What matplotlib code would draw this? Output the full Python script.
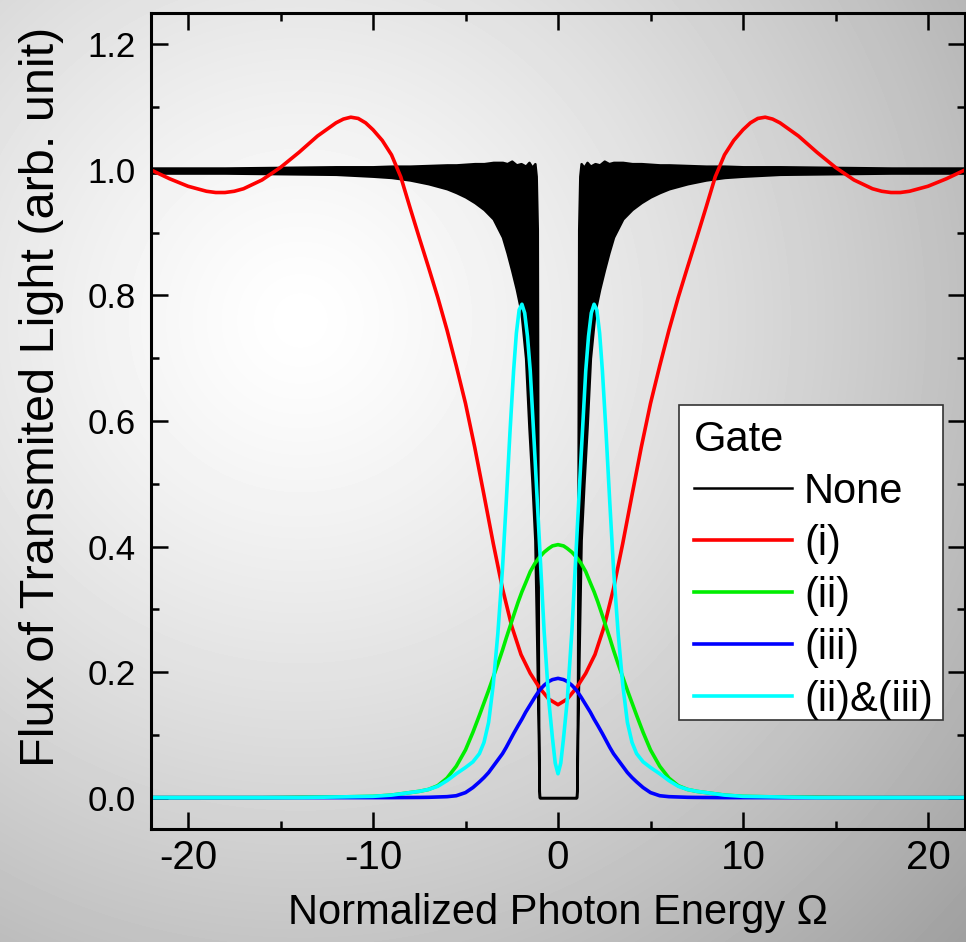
import matplotlib
matplotlib.use('Agg')
import matplotlib.pyplot as plt
from matplotlib.lines import Line2D
from matplotlib.patches import Rectangle
import numpy as np

plt.rcParams['font.family'] = ['Liberation Sans', 'DejaVu Sans']
plt.rcParams['axes.unicode_minus'] = False

# ---- data ----
# Gate: None -> fast oscillation, kept as lower / upper envelope
omega_none = [-22, -18, -15, -12, -10, -9, -8, -7, -6, -5.5, -5, -4.5, -4, -3.5, -3, -2.75, -2.5, -2.25, -2.0,
              -1.75, -1.57, -1.4, -1.25, -1.18, -1.12, -1.06, -1.03, -1.0,
              1.0, 1.03, 1.06, 1.12, 1.18, 1.25, 1.4, 1.57, 1.75,
              2.0, 2.25, 2.5, 2.75, 3, 3.5, 4, 4.5, 5, 5.5, 6, 7, 8, 9, 10, 12, 15, 18, 22]
none_low = [0.995, 0.995, 0.994, 0.993, 0.990, 0.988, 0.984, 0.978, 0.970, 0.964, 0.957, 0.948, 0.937, 0.922, 0.893,
            0.868, 0.840, 0.810, 0.775, 0.700, 0.590, 0.500, 0.410, 0.300, 0.200, 0.100, 0.020, 0.0,
            0.0, 0.020, 0.100, 0.200, 0.300, 0.410, 0.500, 0.590, 0.700,
            0.775, 0.810, 0.840, 0.868, 0.893, 0.922, 0.937, 0.948, 0.957, 0.964, 0.970, 0.978, 0.984, 0.988,
            0.990, 0.993, 0.994, 0.995, 0.995]
none_high = [1.003, 1.003, 1.004, 1.005, 1.005, 1.006, 1.006, 1.007, 1.008, 1.008, 1.009, 1.010, 1.010, 1.012, 1.012,
             1.010, 1.014, 1.008, 1.010, 1.006, 1.012, 1.004, 1.010, 0.990, 0.905, 0.200, 0.030, 0.0,
             0.0, 0.030, 0.200, 0.905, 0.990, 1.010, 1.004, 1.012, 1.006,
             1.010, 1.008, 1.014, 1.010, 1.012, 1.012, 1.010, 1.010, 1.009, 1.008, 1.008, 1.007, 1.006, 1.006,
             1.005, 1.005, 1.004, 1.003, 1.003]

# Gate (i)
omega_i = [-22, -21, -20, -19, -18.5, -18, -17.5, -17, -16, -15, -14, -13, -12, -11.6, -11.2, -10.8, -10.4, -10,
           -9.5, -9, -8.5, -8, -7.5, -7, -6.5, -6, -5.5, -5, -4.5, -4, -3.5, -3, -2.5, -2, -1.5, -1, -0.5, 0,
           0.5, 1, 1.5, 2, 2.5, 3, 3.5, 4, 4.5, 5, 5.5, 6, 6.5, 7, 7.5, 8, 8.5, 9, 9.5,
           10, 10.4, 10.8, 11.2, 11.6, 12, 13, 14, 15, 16, 17, 17.5, 18, 18.5, 19, 20, 21, 22]
gate_i = [1.000, 0.986, 0.974, 0.966, 0.964, 0.964, 0.966, 0.970, 0.984, 1.004, 1.028, 1.054, 1.075, 1.081, 1.084,
          1.082, 1.075, 1.064, 1.047, 1.024, 0.989, 0.940, 0.892, 0.845, 0.797, 0.745, 0.688, 0.628, 0.558, 0.482,
          0.405, 0.333, 0.273, 0.228, 0.198, 0.175, 0.157, 0.148,
          0.157, 0.175, 0.198, 0.228, 0.273, 0.333, 0.405, 0.482, 0.558, 0.628, 0.688, 0.745, 0.797, 0.845, 0.892,
          0.940, 0.989, 1.024, 1.047,
          1.064, 1.075, 1.082, 1.084, 1.081, 1.075, 1.054, 1.028, 1.004, 0.984, 0.970, 0.966, 0.964, 0.964, 0.966,
          0.974, 0.986, 1.000]

# Gates (ii) and (iii)
omega_g = [-22, -16, -14, -12, -10, -9, -8, -7.5, -7, -6.5, -6, -5.5, -5, -4.6, -4.25, -4, -3.75, -3.5, -3.25, -3,
           -2.8, -2.6, -2.4, -2.15, -1.95, -1.75, -1.5, -1.25, -1, -0.75, -0.5, -0.3, -0.15, 0,
           0.15, 0.3, 0.5, 0.75, 1, 1.25, 1.5, 1.75, 1.95, 2.15, 2.4, 2.6, 2.8, 3, 3.25, 3.5, 3.75, 4, 4.25, 4.6,
           5, 5.5, 6, 6.5, 7, 7.5, 8, 9, 10, 12, 14, 16, 22]
gate_ii = [0.0, 0.0, 0.0005, 0.001, 0.002, 0.004, 0.008, 0.010, 0.013, 0.019, 0.031, 0.050, 0.076, 0.104, 0.131,
           0.151, 0.171, 0.192, 0.213, 0.235, 0.254, 0.272, 0.290, 0.312, 0.328, 0.342, 0.360, 0.373, 0.383, 0.391,
           0.397, 0.401, 0.402, 0.403,
           0.402, 0.401, 0.397, 0.391, 0.383, 0.373, 0.360, 0.342, 0.328, 0.312, 0.290, 0.272, 0.254, 0.235, 0.213,
           0.192, 0.171, 0.151, 0.131, 0.104, 0.076, 0.050, 0.031, 0.019, 0.013, 0.010, 0.008, 0.004, 0.002, 0.001,
           0.0005, 0.0, 0.0]
gate_iii = [0.0, 0.0, 0.0, 0.0, 0.0, 0.0, 0.0002, 0.0003, 0.0005, 0.001, 0.0015, 0.003, 0.008, 0.016, 0.025, 0.032,
            0.040, 0.050, 0.060, 0.070, 0.080, 0.091, 0.102, 0.115, 0.125, 0.136, 0.148, 0.160, 0.171, 0.179, 0.185,
            0.188, 0.189, 0.190,
            0.189, 0.188, 0.185, 0.179, 0.171, 0.160, 0.148, 0.136, 0.125, 0.115, 0.102, 0.091, 0.080, 0.070, 0.060,
            0.050, 0.040, 0.032, 0.025, 0.016, 0.008, 0.003, 0.0015, 0.001, 0.0005, 0.0003, 0.0002, 0.0, 0.0, 0.0,
            0.0, 0.0, 0.0]

# Gate (ii)&(iii)
omega_c = [-22, -16, -14, -12, -10, -9, -8, -7.5, -7, -6.5, -6, -5.5, -5, -4.6, -4.25, -4, -3.75, -3.5, -3.25, -3,
           -2.8, -2.6, -2.4, -2.25, -2.1, -1.95, -1.8, -1.65, -1.5, -1.25, -1, -0.75, -0.5, -0.3, -0.15, 0,
           0.15, 0.3, 0.5, 0.75, 1, 1.25, 1.5, 1.65, 1.8, 1.95, 2.1, 2.25, 2.4, 2.6, 2.8, 3, 3.25, 3.5, 3.75, 4,
           4.25, 4.6, 5, 5.5, 6, 6.5, 7, 7.5, 8, 9, 10, 12, 14, 16, 22]
gate_ii_iii = [0.0, 0.0, 0.0, 0.001, 0.002, 0.004, 0.008, 0.010, 0.013, 0.018, 0.027, 0.038, 0.048, 0.057, 0.070,
               0.088, 0.120, 0.180, 0.262, 0.365, 0.470, 0.580, 0.680, 0.740, 0.777, 0.786, 0.772, 0.735, 0.680,
               0.545, 0.405, 0.265, 0.155, 0.095, 0.055, 0.038,
               0.055, 0.095, 0.155, 0.265, 0.405, 0.545, 0.680, 0.735, 0.772, 0.786, 0.777, 0.740, 0.680, 0.580,
               0.470, 0.365, 0.262, 0.180, 0.120, 0.088, 0.070, 0.057, 0.048, 0.038, 0.027, 0.018, 0.013, 0.010,
               0.008, 0.004, 0.002, 0.001, 0.0, 0.0, 0.0]

legend_labels = ['None', '(i)', '(ii)', '(iii)', '(ii)&(iii)']
line_colors = ['black', '#ff0000', '#00ee00', '#0000ff', '#00ffff']

# ---- figure ----
fig = plt.figure(figsize=(9.66, 9.42), dpi=100)

# grey radial background
bg = fig.add_axes([0, 0, 1, 1], zorder=-10)
yy, xx = np.mgrid[0:942, 0:966]
r = np.hypot(xx - 300, yy - 320)
shade = 1 - 0.37 * (r / 900) ** 1.3
bg.imshow(shade, cmap='gray', vmin=0, vmax=1, aspect='auto', interpolation='bilinear')
bg.axis('off')

ax = fig.add_axes([151 / 966, 113 / 942, 814 / 966, 816 / 942])
ax.set_facecolor('none')

ax.fill_between(omega_none, none_low, none_high, facecolor='black', edgecolor='black', lw=1.8)
kw = dict(lw=2.6, solid_joinstyle='round')
ax.plot(omega_i, gate_i, color=line_colors[1], **kw)
ax.plot(omega_g, gate_ii, color=line_colors[2], **kw)
ax.plot(omega_g, gate_iii, color=line_colors[3], **kw)
ax.plot(omega_c, gate_ii_iii, color=line_colors[4], **kw)

ax.set_xlim(-22, 22)
ax.set_ylim(-0.05, 1.25)
ax.set_xticks([-20, -10, 0, 10, 20])
ax.set_xticks([-15, -5, 5, 15], minor=True)
ax.set_yticks([0, 0.2, 0.4, 0.6, 0.8, 1.0, 1.2])
ax.set_yticks([0.1, 0.3, 0.5, 0.7, 0.9, 1.1], minor=True)
ax.set_yticklabels(['0.0', '0.2', '0.4', '0.6', '0.8', '1.0', '1.2'])

ax.tick_params(which='both', direction='in', top=True, right=True, width=1.8)
ax.tick_params(which='major', length=12)
ax.tick_params(which='minor', length=6)
ax.tick_params(axis='x', pad=7, labelsize=29)
ax.tick_params(axis='y', pad=11, labelsize=25)
for s in ax.spines.values():
    s.set_linewidth(2.2)

ax.set_xlabel('Normalized Photon Energy Ω', fontsize=30, labelpad=12)
ax.set_ylabel('Flux of Transmited Light (arb. unit)', fontsize=35)
ax.yaxis.set_label_coords(-0.107, 0.529)

# legend box drawn by hand so its edges sit where the reference has them
box_l, box_r = (679 - 151) / 814, (943 - 151) / 814
box_t, box_b = (829 - 405) / 816, (829 - 720) / 816
ax.add_patch(Rectangle((box_l, box_b), box_r - box_l, box_t - box_b, transform=ax.transAxes,
                       facecolor='white', edgecolor='#333333', lw=1.2, zorder=5))

handles = [Line2D([], [], color=line_colors[0], lw=1.8)] + \
          [Line2D([], [], color=c, lw=2.6) for c in line_colors[1:]]
leg = ax.legend(handles, legend_labels, title='Gate', loc='upper left', bbox_to_anchor=(box_l, box_t),
                borderaxespad=0, frameon=False, fontsize=30, title_fontsize=30, handlelength=2.35,
                handletextpad=0.3, labelspacing=0.29, borderpad=0.35, alignment='left')
leg.set_zorder(6)

fig.savefig('out.png', dpi=100)
